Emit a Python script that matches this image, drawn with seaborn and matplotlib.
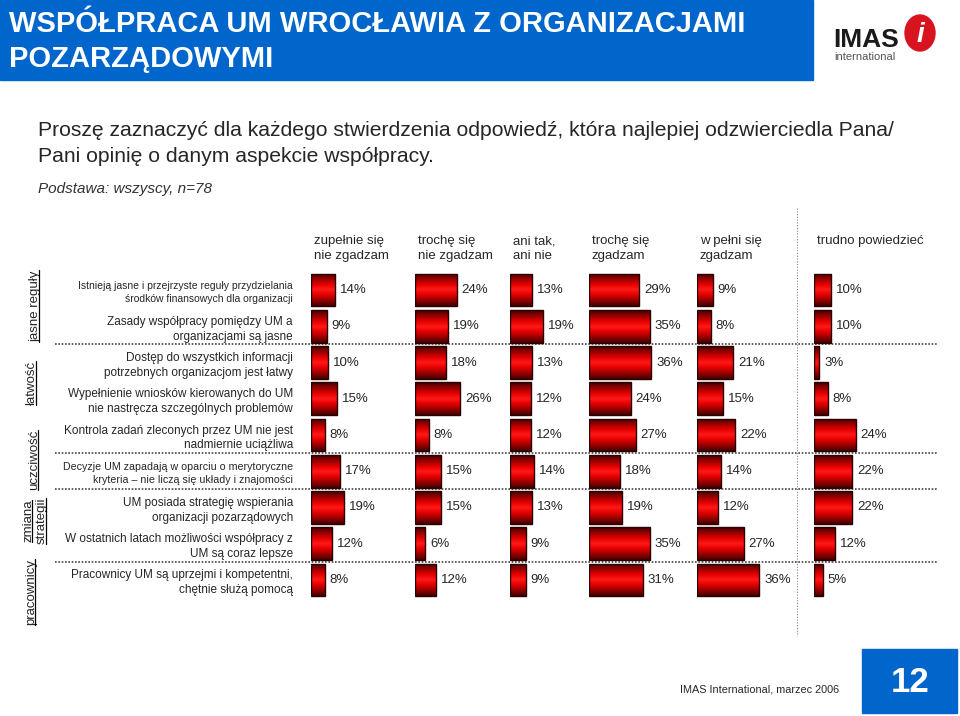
import numpy as np
import pandas as pd
import matplotlib
matplotlib.use("Agg")
import matplotlib.pyplot as plt
import seaborn as sns
from matplotlib.colors import LinearSegmentedColormap
from matplotlib.patches import Rectangle, Ellipse
from matplotlib.lines import Line2D

# data
statements = [
    "Istnieją jasne i przejrzyste reguły przydzielania\nśrodków finansowych dla organizacji",
    "Zasady współpracy pomiędzy UM a\norganizacjami są jasne",
    "Dostęp do wszystkich informacji\npotrzebnych organizacjom jest łatwy",
    "Wypełnienie wniosków kierowanych do UM\nnie nastręcza szczególnych problemów",
    "Kontrola zadań zleconych przez UM nie jest\nnadmiernie uciążliwa",
    "Decyzje UM zapadają w oparciu o merytoryczne\nkryteria – nie liczą się układy i znajomości",
    "UM posiada strategię wspierania\norganizacji pozarządowych",
    "W ostatnich latach możliwości współpracy z\nUM są coraz lepsze",
    "Pracownicy UM są uprzejmi i kompetentni,\nchętnie służą pomocą",
]
answers = ["zupełnie się\nnie zgadzam", "trochę się\nnie zgadzam", "ani tak,\nani nie",
           "trochę się\nzgadzam", "w pełni się\nzgadzam", "trudno powiedzieć"]
zupelnie_nie = [14, 9, 10, 15, 8, 17, 19, 12, 8]
troche_nie = [24, 19, 18, 26, 8, 15, 15, 6, 12]
ani_tak_ani_nie = [13, 19, 13, 12, 12, 14, 13, 9, 9]
troche_tak = [29, 35, 36, 24, 27, 18, 19, 35, 31]
w_pelni = [9, 8, 21, 15, 22, 14, 12, 27, 36]
trudno = [10, 10, 3, 8, 24, 22, 22, 12, 5]
groups = ["jasne reguły", "łatwość", "uczciwość", "zmiana", "strategii", "pracownicy"]
group_breaks = [1.5, 4.5, 5.5, 7.5]

series = [zupelnie_nie, troche_nie, ani_tak_ani_nie, troche_tak, w_pelni, trudno]
df = pd.DataFrame({
    "statement": np.tile(statements, len(answers)),
    "answer": np.repeat(answers, len(statements)),
    "pct": np.concatenate(series),
})

sns.set_theme(style="white")
plt.rcParams["font.family"] = ["Liberation Sans", "DejaVu Sans"]

W, H = 960, 716
fig = plt.figure(figsize=(9.6, 7.16), dpi=100)

bg = fig.add_axes([0, 0, 1, 1], zorder=0)
bg.set_xlim(0, W)
bg.set_ylim(H, 0)
bg.axis("off")

# header
bg.add_patch(Rectangle((0, 0), 813, 80, color="#0066cc"))
bg.text(9, 24, "WSPÓŁPRACA UM WROCŁAWIA Z ORGANIZACJAMI", color="white",
        fontsize=21, fontweight="bold", va="center")
bg.text(9, 59, "POZARZĄDOWYMI", color="white", fontsize=21, fontweight="bold", va="center")

# logo
bg.text(833, 47, "IMAS", fontsize=19, fontweight="bold", color="#1a1a1a", va="baseline")
bg.text(834, 60, "international", fontsize=8, color="#555555", va="baseline")
bg.add_patch(Ellipse((920, 33), 30, 36, color="#d7141f"))
bg.text(920, 35, "i", fontsize=20, fontweight="bold", style="italic", color="white",
        ha="center", va="center")

bg.text(38, 131, "Proszę zaznaczyć dla każdego stwierdzenia odpowiedź, która najlepiej odzwierciedla Pana/",
        fontsize=15.2, va="center")
bg.text(38, 156, "Pani opinię o danym aspekcie współpracy.", fontsize=15.2, va="center")
bg.text(38, 189, "Podstawa: wszyscy, n=78", fontsize=11, style="italic", color="#333333", va="center")

# footer
bg.text(680, 689, "IMAS International, marzec 2006", fontsize=7.8, va="center")
bg.add_patch(Rectangle((862, 649), 95, 64, color="#0066cc"))
bg.text(910, 683, "12", fontsize=25, fontweight="bold", color="white", ha="center", va="center")

# layout of the bar panels (pixels)
col_left = [311, 415, 510, 589, 697, 814]
px_per_pct = 1.73
xmax = 60
top, bottom = 272, 598
ax_b = (H - bottom) / H
ax_h = (bottom - top) / H

# dotted separators
grid = fig.add_axes([55 / W, ax_b, (938 - 55) / W, ax_h], zorder=1)
grid.set_ylim(len(statements) - 0.5, -0.5)
for yb in group_breaks:
    grid.axhline(yb, color="#444444", lw=1.2, ls=(0, (1, 1)))
grid.axis("off")
bg.plot([797, 797], [208, 636], color="#888888", lw=0.8, ls=(0, (1, 1.5)))

cmap = LinearSegmentedColormap.from_list(
    "barred", [(0, "#400000"), (0.15, "#8a0000"), (0.35, "#e60000"), (0.5, "#ff1a1a"),
               (0.65, "#e60000"), (0.85, "#8a0000"), (1, "#400000")])
grad = np.linspace(0, 1, 128).reshape(-1, 1)

for i, ans in enumerate(answers):
    ax = fig.add_axes([col_left[i] / W, ax_b, xmax * px_per_pct / W, ax_h], zorder=2)
    ax.patch.set_alpha(0)
    sub = df[df["answer"] == ans]
    sns.barplot(data=sub, x="pct", y="statement", orient="h", ax=ax, width=0.9,
                color="red", linewidth=1, edgecolor="#2a0000")
    for bar in ax.patches:
        x0, y0 = bar.get_x(), bar.get_y()
        w, h = bar.get_width(), bar.get_height()
        im = ax.imshow(grad, extent=[x0, x0 + w, y0, y0 + h], aspect="auto",
                       cmap=cmap, interpolation="bicubic", zorder=0.5)
        im.set_clip_path(bar)
        bar.set_facecolor("none")
    ax.set_xlim(0, xmax)
    ax.set_ylim(len(statements) - 0.5, -0.5)
    ax.bar_label(ax.containers[0], labels=[f"{v:.0f}%" for v in sub["pct"]],
                 padding=3.5, fontsize=9.5)
    sns.despine(ax=ax, left=True, bottom=True)
    ax.set_xlabel("")
    ax.set_ylabel("")
    ax.set_xticks([])
    if i == 0:
        ax.tick_params(axis="y", length=0, pad=13)
        for k, lab in enumerate(ax.get_yticklabels()):
            lab.set_fontsize(7.5 if k == 0 else (7.7 if k == 5 else 8.5))
            lab.set_linespacing(1.3)
    else:
        ax.set_yticks([])
    # column header
    bg.text(col_left[i] + 3, 235, ans, fontsize=9.5, va="top", ha="left", linespacing=1.35)

# group labels, vertical and underlined
group_pos = [(35, 306), (32, 383), (34, 460), (28, 521), (42, 521), (31, 592)]
texts = []
for g, (gx, gy) in zip(groups, group_pos):
    texts.append(bg.text(gx, gy, g, rotation=90, fontsize=9.5, ha="center", va="center"))

fig.canvas.draw()
r = fig.canvas.get_renderer()
inv = fig.transFigure.inverted()
for t in texts:
    bb = t.get_window_extent(r)
    (fx0, fy0) = inv.transform((bb.x1 - 2.5, bb.y0))
    (fx1, fy1) = inv.transform((bb.x1 - 2.5, bb.y1))
    fig.add_artist(Line2D([fx0, fx1], [fy0, fy1], color="black", lw=0.9))

fig.savefig("out.png", dpi=100)
plt.close("all")
